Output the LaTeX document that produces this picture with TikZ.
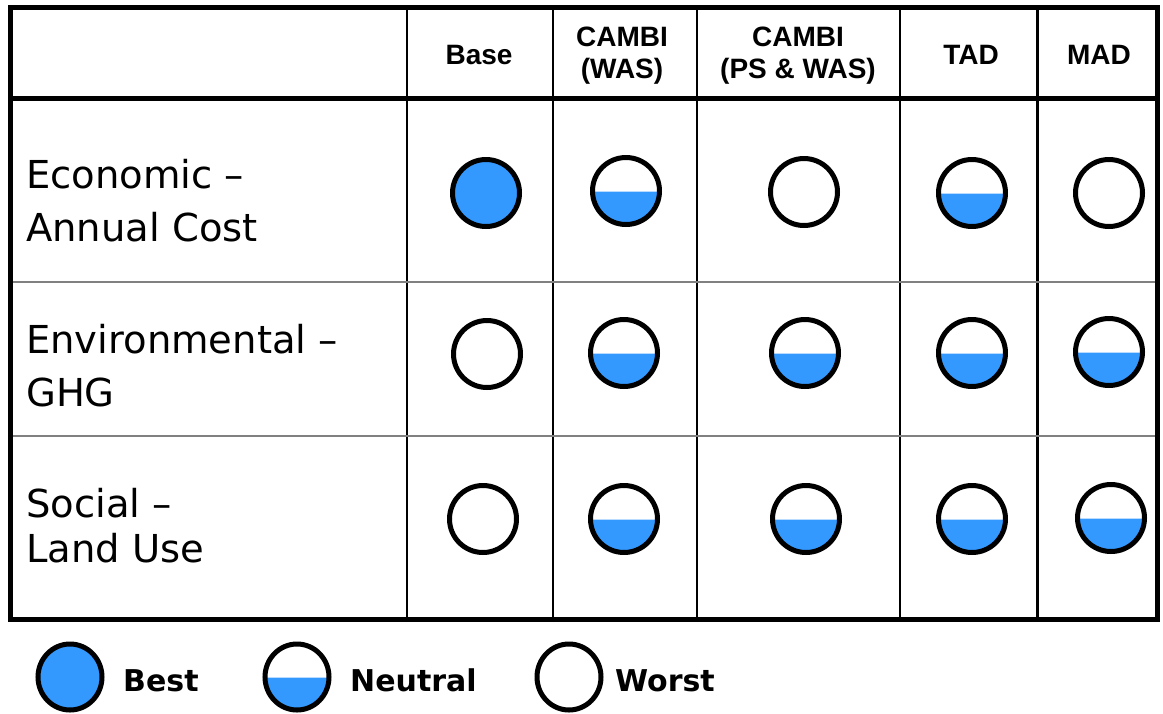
\documentclass[tikz,border=0pt]{standalone}
\usepackage{fontspec}
\usetikzlibrary{shapes.geometric}
\newfontfamily\labelfont{DejaVu Sans}
\newfontfamily\headfont{Liberation Sans}
\newfontfamily\keyfont{DejaVu Sans}
\definecolor{fillblue}{HTML}{3399FF}
\definecolor{rulegray}{HTML}{808080}
\tikzset{
  frameline/.style={line width=5pt},
  colline/.style={line width=2.3pt},
  rowline/.style={line width=2pt, draw=rulegray},
  head/.style={inner sep=0pt, align=center, font=\headfont\bfseries\fontsize{28}{32}\selectfont},
  rowlabel/.style={inner sep=0pt, anchor=base west, font=\labelfont\fontsize{38.5}{44}\selectfont},
  keytext/.style={inner sep=0pt, anchor=base west, font=\keyfont\bfseries\fontsize{30}{36}\selectfont},
  dotbase/.style={circle, draw=black, line width=5pt, minimum size=67pt, inner sep=0pt},
  bestdot/.style={dotbase, fill=fillblue},
  worstdot/.style={dotbase, fill=white},
  neutraldot/.style={dotbase, fill=white,
    path picture={
      \fill[fillblue] (path picture bounding box.west) rectangle (path picture bounding box.south east);
      \draw[line width=1pt, fillblue!35] (path picture bounding box.west) -- (path picture bounding box.east);
    }},
  keybase/.style={ellipse, draw=black, line width=5pt, minimum width=64pt, minimum height=66pt, inner sep=0pt},
}
\begin{document}
\begin{tikzpicture}[x=1pt,y=-1pt]
\useasboundingbox[fill=white] (0,0) rectangle (1163,713);

% grid of the table
\foreach \x in {407,553,697,900,1037.5}
  \draw[colline] (\x,7.5) -- (\x,621);
\draw[rowline] (10,282) -- (1157,282);
\draw[rowline] (10,435.5) -- (1157,435.5);
\draw[frameline] (10,98.5) -- (1157,98.5);
\draw[frameline] (10,7.5) rectangle (1157,619.5);

% column headings
\node[head] (hBase) at (479,55) {Base};
\node[head] (hCambiW) at (622,56) {CAMBI\\(WAS)};
\node[head] (hCambiPW) at (798,56) {CAMBI\\(PS \& WAS)};
\node[head] (hTAD) at (971,55) {TAD};
\node[head] (hMAD) at (1099,55) {MAD};

% row headings
\node[rowlabel] (econA) at (26,188) {Economic –};
\node[rowlabel] (econB) at (26,241) {Annual Cost};
\node[rowlabel] (envA) at (26,353) {Environmental –};
\node[rowlabel] (envB) at (26,406) {GHG};
\node[rowlabel] (socA) at (26,517) {Social –};
\node[rowlabel] (socB) at (26,562) {Land Use};

% ratings: economic
\node[bestdot] (e1) at (486,193) {};
\node[neutraldot] (e2) at (626,191) {};
\node[worstdot] (e3) at (804,192) {};
\node[neutraldot] (e4) at (972,193) {};
\node[worstdot] (e5) at (1109,193) {};

% ratings: environmental
\node[worstdot] (g1) at (487,354) {};
\node[neutraldot] (g2) at (624,353) {};
\node[neutraldot] (g3) at (805,353) {};
\node[neutraldot] (g4) at (972,353) {};
\node[neutraldot] (g5) at (1109,352) {};

% ratings: social
\node[worstdot] (s1) at (483,519) {};
\node[neutraldot] (s2) at (624,519) {};
\node[neutraldot] (s3) at (806,519) {};
\node[neutraldot] (s4) at (972,519) {};
\node[neutraldot] (s5) at (1111,518) {};

% key
\node[keybase, fill=fillblue] (kBest) at (70,677) {};
\node[keytext] (tBest) at (123,691) {Best};
\node[keybase, fill=white, path picture={
      \fill[fillblue] (path picture bounding box.west) rectangle (path picture bounding box.south east);
      \draw[line width=1pt, fillblue!35] (path picture bounding box.west) -- (path picture bounding box.east);
    }] (kNeutral) at (297,677) {};
\node[keytext] (tNeutral) at (350,691) {Neutral};
\node[keybase, fill=white] (kWorst) at (569,677) {};
\node[keytext] (tWorst) at (615,691) {Worst};
\end{tikzpicture}
\end{document}
